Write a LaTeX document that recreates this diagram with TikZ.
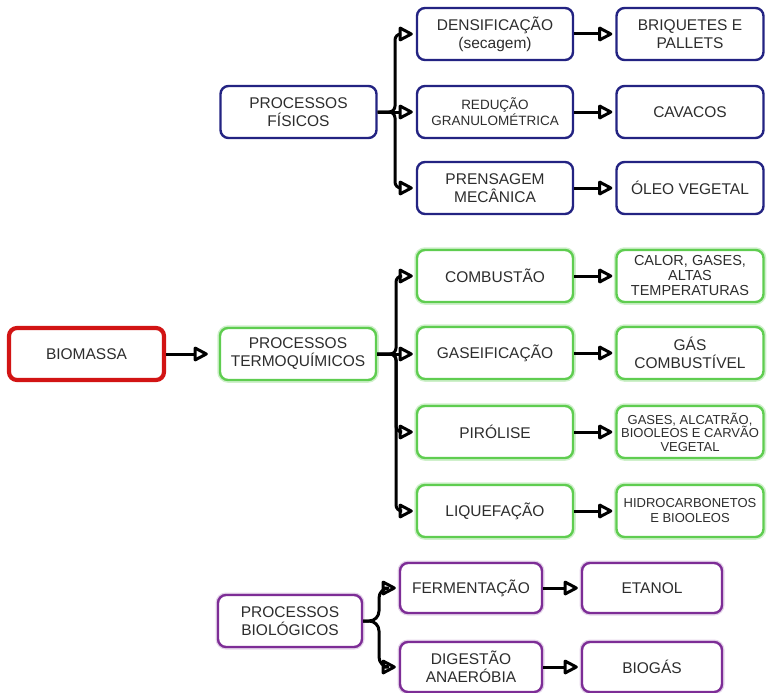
\documentclass[tikz,border=0pt]{standalone}
\usepackage{fontspec}
\setmainfont{Liberation Sans}
\usetikzlibrary{arrows.meta}
\definecolor{navy}{RGB}{35,35,130}
\definecolor{grn}{RGB}{95,205,80}
\definecolor{prp}{RGB}{125,45,150}
\definecolor{rd}{RGB}{210,20,20}
\definecolor{txt}{RGB}{45,45,45}
\begin{document}
\begin{tikzpicture}[x=1pt,y=-1pt,
 box/.style={draw, rounded corners=8pt, line width=2.4pt, fill=white, text=txt, align=center, inner sep=0pt,
   font=\fontsize{15.5}{18}\selectfont, minimum height=52pt},
 blu/.style={box, draw=navy},
 gr/.style={box, draw=grn, preaction={draw=grn!30, line width=5.5pt}},
 pu/.style={box, draw=prp, preaction={draw=prp!20, line width=5pt}},
 wA/.style={minimum width=156pt},
 wB/.style={minimum width=147pt},
 conn/.style={draw=black, line width=3pt, -{Triangle[open, length=16pt, width=16pt, line width=3pt, round]},
   shorten >=3pt, rounded corners=6pt},
]
\useasboundingbox (0,0) rectangle (768,693);

% level 0
\node[box, draw=rd, line width=4.2pt, minimum width=155pt, minimum height=52pt] (bio) at (86.5,354) {BIOMASSA};

% physical
\node[blu, wA] (pf) at (298.5,112) {PROCESSOS\\FÍSICOS};
\node[blu, wA] (d1) at (495,34) {DENSIFICAÇÃO\\(secagem)};
\node[blu, wA, font=\fontsize{13.5}{16}\selectfont] (d2) at (495,112) {REDUÇÃO\\GRANULOMÉTRICA};
\node[blu, wA] (d3) at (495,188) {PRENSAGEM\\MECÂNICA};
\node[blu, wB] (r1) at (690,34) {BRIQUETES E\\PALLETS};
\node[blu, wB] (r2) at (690,112) {CAVACOS};
\node[blu, wB] (r3) at (690,188) {ÓLEO VEGETAL};

% thermochemical
\node[gr, wA] (pt) at (298,354) {PROCESSOS\\TERMOQUÍMICOS};
\node[gr, wA] (g1) at (495,276) {COMBUSTÃO};
\node[gr, wA] (g2) at (495,353) {GASEIFICAÇÃO};
\node[gr, wA] (g3) at (495,432) {PIRÓLISE};
\node[gr, wA] (g4) at (495,511) {LIQUEFAÇÃO};
\node[gr, wB, font=\fontsize{14.5}{15}\selectfont] (h1) at (690,276) {CALOR, GASES,\\ALTAS\\TEMPERATURAS};
\node[gr, wB] (h2) at (690,353) {GÁS\\COMBUSTÍVEL};
\node[gr, wB, font=\fontsize{13}{13.5}\selectfont] (h3) at (690,432) {GASES, ALCATRÃO,\\BIOOLEOS E CARVÃO\\VEGETAL};
\node[gr, wB, font=\fontsize{13}{15}\selectfont] (h4) at (690,511) {HIDROCARBONETOS\\E BIOOLEOS};

% biological
\node[pu, minimum width=144pt] (pb) at (290,621) {PROCESSOS\\BIOLÓGICOS};
\node[pu, minimum width=142pt, minimum height=50pt] (f1) at (471,588) {FERMENTAÇÃO};
\node[pu, minimum width=142pt, minimum height=50pt] (f2) at (471,667) {DIGESTÃO\\ANAERÓBIA};
\node[pu, minimum width=140pt, minimum height=50pt] (b1) at (652,588) {ETANOL};
\node[pu, minimum width=140pt, minimum height=50pt] (b2) at (652,667) {BIOGÁS};

% junction coordinates
\coordinate (jf) at (395,112);
\coordinate (jt) at (396,354);
\coordinate (jb) at (379,621);

% connectors
\draw[conn, shorten >=11pt] (bio) -- (pt);

\draw[conn] (pf.east) -- (jf) |- (d1.west);
\draw[conn] (pf.east) -- (d2.west);
\draw[conn] (pf.east) -- (jf) |- (d3.west);

\draw[conn] (pt.east) -- (jt) |- (g1.west);
\draw[conn] (pt.east) -- (g2.west |- jt);
\draw[conn] (pt.east) -- (jt) |- (g3.west);
\draw[conn] (pt.east) -- (jt) |- (g4.west);

\draw[conn, rounded corners=10pt] (pb.east) -- (jb) |- (f1.west);
\draw[conn, rounded corners=10pt] (pb.east) -- (jb) |- (f2.west);

\foreach \a/\b in {d1/r1,d2/r2,d3/r3,g1/h1,g2/h2,g3/h3,g4/h4,f1/b1,f2/b2}
  \draw[conn] (\a) -- (\b);
\end{tikzpicture}
\end{document}
